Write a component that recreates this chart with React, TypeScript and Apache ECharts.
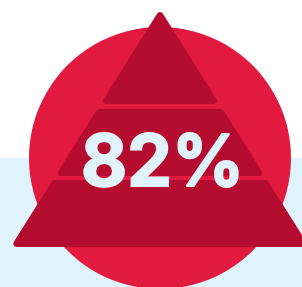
import React, { useEffect, useRef } from "react";
import * as echarts from "echarts";

const shareValues: number[] = [82];
const shareLabels: string[] = ["82%"];

const W = 302;
const H = 287;

const apexX = 160;
const apexY = 9;
const k = 0.628; // half-width per pixel of height
const cornerR = 3.5;
const tierYs: [number, number][] = [
  [apexY, 104],
  [109, 176],
  [180, 247],
];

function tierPolygon(top: number, bottom: number, isApex: boolean): number[][] {
  const off = cornerR * Math.sqrt(1 + k * k);
  const half = (y: number) => k * (y - apexY) - off;
  const b = bottom - cornerR;
  if (isApex) {
    const t = apexY + off / k;
    return [
      [apexX, t],
      [apexX + half(b), b],
      [apexX - half(b), b],
    ];
  }
  const t = top + cornerR;
  return [
    [apexX - half(t), t],
    [apexX + half(t), t],
    [apexX + half(b), b],
    [apexX - half(b), b],
  ];
}

export default function App() {
  const ref = useRef<HTMLDivElement>(null);
  useEffect(() => {
    if (!ref.current) return;
    const chart = echarts.init(ref.current, null, { renderer: "svg" });
    const triColor = "#b50d2f";
    const textColor = "#e0f2fa";
    const elements: any[] = [
      {
        type: "rect",
        shape: { x: 0, y: 0, width: W, height: H },
        style: { fill: "#ffffff" },
        silent: true,
      },
      {
        type: "rect",
        shape: { x: 0, y: 158, width: W, height: H - 158 },
        style: { fill: "#e0f2fa" },
        silent: true,
      },
      {
        type: "circle",
        shape: { cx: 160, cy: 158, r: 131 },
        style: { fill: "#e31a40" },
        silent: true,
      },
    ];
    tierYs.forEach(([t, b], i) => {
      elements.push({
        type: "polygon",
        shape: { points: tierPolygon(t, b, i === 0) },
        style: {
          fill: triColor,
          stroke: triColor,
          lineWidth: cornerR * 2,
          lineJoin: "round",
        },
        silent: true,
      });
    });
    elements.push({
      type: "text",
      x: 162.5,
      y: 160,
      style: {
        text: shareLabels[0] ?? `${shareValues[0]}%`,
        fill: textColor,
        stroke: textColor,
        lineWidth: 1.8,
        lineJoin: "round",
        fontFamily: "Inter",
        fontWeight: "bold",
        fontSize: 71,
        align: "center",
        verticalAlign: "middle",
      },
      silent: true,
    });
    chart.setOption({
      animation: false,
      graphic: { elements },
    });
    return () => chart.dispose();
  }, []);
  return (
    <div
      ref={ref}
      style={{ position: "absolute", left: 0, top: 0, width: W, height: H }}
    />
  );
}
